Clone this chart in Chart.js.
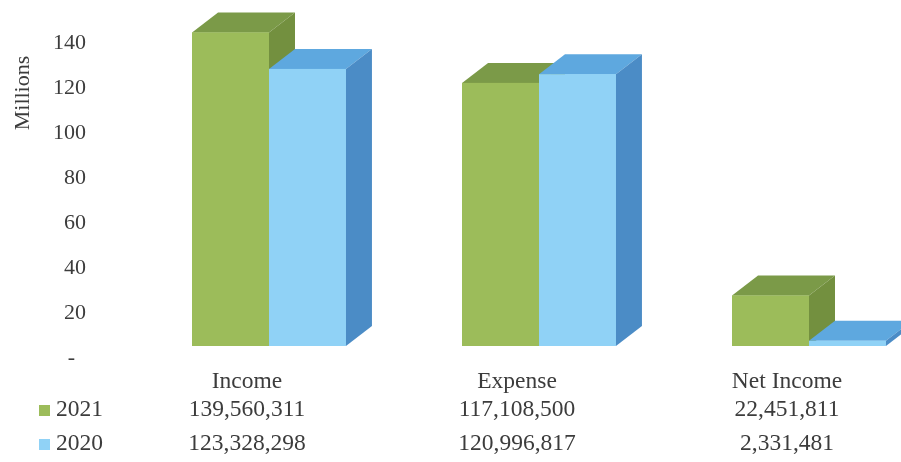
<!DOCTYPE html>
<html>
<head>
<meta charset="utf-8">
<script src="https://cdn.jsdelivr.net/npm/chart.js@4"></script>
<style>
  html, body { margin: 0; padding: 0; background: #fff; overflow: hidden; }
  #wrap { position: relative; width: 960px; height: 462px; }
</style>
</head>
<body>
<div id="wrap"><canvas id="bar-chart"></canvas></div>
<script>
const categories = ['Income', 'Expense', 'Net Income'];
const seriesLabels = ['2021', '2020'];
const values2021 = [139560311, 117108500, 22451811];
const values2020 = [123328298, 120996817, 2331481];
const yTicks = [0, 20, 40, 60, 80, 100, 120, 140];

const green = { front: '#9cbc5a', top: '#7b9a48', side: '#73903f' };
const blue = { front: '#90d2f6', top: '#5ea8df', side: '#4b8cc6' };
const textColor = '#3c3c3c';
const serif = '"Liberation Serif", "Times New Roman", serif';

// depth of the fake 3d boxes
const dx = 26, dy = -20;

const box3d = {
    id: 'box3d',
    afterDatasetsDraw(chart) {
        const ctx = chart.ctx;
        ctx.save();
        chart.data.datasets.forEach((ds, di) => {
            const pal = di == 0 ? green : blue;
            chart.getDatasetMeta(di).data.forEach(bar => {
                const left = bar.x - bar.width / 2, right = bar.x + bar.width / 2;
                const top = bar.y, base = bar.base;
                // top face
                ctx.fillStyle = pal.top;
                ctx.beginPath();
                ctx.moveTo(left, top);
                ctx.lineTo(right, top);
                ctx.lineTo(right + dx, top + dy);
                ctx.lineTo(left + dx, top + dy);
                ctx.closePath();
                ctx.fill();
                // side face
                ctx.fillStyle = pal.side;
                ctx.beginPath();
                ctx.moveTo(right, top);
                ctx.lineTo(right + dx, top + dy);
                ctx.lineTo(right + dx, base + dy);
                ctx.lineTo(right, base);
                ctx.closePath();
                ctx.fill();
                // front face again so it sits above the neighbour's side
                ctx.fillStyle = pal.front;
                ctx.fillRect(left, top, right - left, base - top);
            });
        });
        ctx.restore();
    },
    afterDraw(chart) {
        const ctx = chart.ctx;
        const x = chart.scales.x;
        ctx.save();
        ctx.fillStyle = textColor;

        // axis title
        ctx.font = '22px ' + serif;
        ctx.save();
        ctx.translate(23, 93);
        ctx.rotate(-Math.PI / 2);
        ctx.textAlign = 'center';
        ctx.textBaseline = 'middle';
        ctx.fillText('Millions', 0, 0);
        ctx.restore();

        // data table under the chart
        ctx.font = '23.5px ' + serif;
        ctx.textAlign = 'center';
        ctx.textBaseline = 'middle';
        const rows = [values2021, values2020];
        const rowY = [410, 444];
        categories.forEach((c, i) => {
            const cx = x.getPixelForValue(i) - 22;
            ctx.fillText(c, cx, 382);
            rows.forEach((r, ri) => {
                ctx.fillText(r[i].toLocaleString('en-US'), cx, rowY[ri]);
            });
        });
        ctx.textAlign = 'left';
        seriesLabels.forEach((s, ri) => {
            ctx.fillStyle = ri == 0 ? green.front : blue.front;
            ctx.fillRect(39, rowY[ri] - 5, 11, 11);
            ctx.fillStyle = textColor;
            ctx.fillText(s, 56, rowY[ri]);
        });
        ctx.restore();
    }
};

const canvas = document.querySelector('#bar-chart');

new Chart(canvas, {
    type: 'bar',
    data: {
        labels: categories,
        datasets: [
            {
                label: seriesLabels[0],
                data: values2021.map(v => v / 1e6),
                backgroundColor: green.front,
                categoryPercentage: 0.57,
                barPercentage: 1.0
            },
            {
                label: seriesLabels[1],
                data: values2020.map(v => v / 1e6),
                backgroundColor: blue.front,
                categoryPercentage: 0.57,
                barPercentage: 1.0
            }
        ]
    },
    options: {
        responsive: true,
        maintainAspectRatio: false,
        animation: false,
        layout: { padding: { left: 0, right: 16, top: 9, bottom: 116 } },
        plugins: {
            legend: { display: false },
            tooltip: { enabled: false }
        },
        scales: {
            x: {
                display: false,
                offset: true
            },
            y: {
                min: 0,
                max: 150,
                afterBuildTicks: scale => {
                    scale.ticks = yTicks.map(v => ({ value: v }));
                },
                afterFit: scale => {
                    scale.width = 134;
                    // tick padding should not push the plot area down
                    scale.paddingTop = 0;
                    scale.paddingBottom = 0;
                },
                grid: { display: false, drawTicks: false },
                border: { display: false },
                ticks: {
                    padding: 48,
                    labelOffset: 12,
                    color: textColor,
                    font: { family: serif, size: 22 },
                    callback: v => v == 0 ? '-  ' : String(v)
                }
            }
        }
    },
    plugins: [box3d]
});
</script>
</body>
</html>
